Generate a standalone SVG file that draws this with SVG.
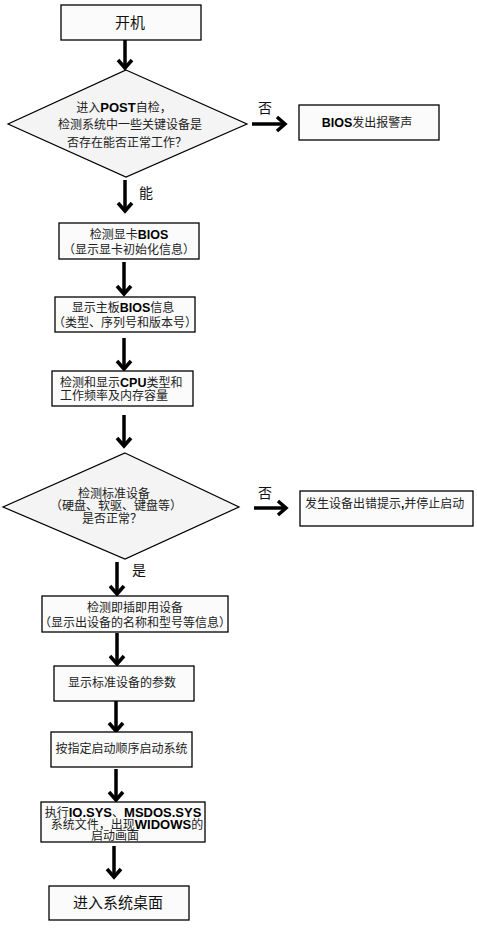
<svg xmlns="http://www.w3.org/2000/svg" width="477" height="944" viewBox="0 0 477 944">
<style>
.box{fill:#fbfbfb;stroke:#000;stroke-width:1.3}
.dia{fill:#f4f4f4;stroke:#000;stroke-width:1.2}
.t{font-family:"Noto Sans CJK SC","Liberation Serif",serif;font-size:12px;fill:#222}
.big{font-family:"Noto Sans CJK SC","Liberation Sans",sans-serif;font-size:15px;fill:#111}
.lbl{font-family:"Noto Sans CJK SC","Liberation Sans",sans-serif;font-size:14px;fill:#111}
.b{font-family:"Liberation Sans",Arial,sans-serif;font-weight:bold;fill:#000}
.m{text-anchor:middle}
.sh{stroke:#000;stroke-width:3.5;fill:none}
.hd{stroke:#000;stroke-width:3.5;fill:none;stroke-linejoin:miter}
</style>
<rect width="477" height="944" fill="#fff"/>
<g id="connectors">
<g id="a1"><line class="sh" x1="125" y1="40" x2="125" y2="68"/><polyline class="hd" points="118,60 125,68 132,60"/></g>
<g id="a2"><line class="sh" x1="125" y1="180" x2="125" y2="211"/><polyline class="hd" points="118,203 125,211 132,203"/></g>
<g id="a3"><line class="sh" x1="124" y1="262" x2="124" y2="294"/><polyline class="hd" points="117,286 124,294 131,286"/></g>
<g id="a4"><line class="sh" x1="124" y1="338" x2="124" y2="369"/><polyline class="hd" points="117,361 124,369 131,361"/></g>
<g id="a5"><line class="sh" x1="124" y1="415" x2="124" y2="446"/><polyline class="hd" points="117,438 124,446 131,438"/></g>
<g id="a6"><line class="sh" x1="117" y1="562" x2="117" y2="594"/><polyline class="hd" points="110,586 117,594 124,586"/></g>
<g id="a7"><line class="sh" x1="117" y1="633" x2="117" y2="664"/><polyline class="hd" points="110,656 117,664 124,656"/></g>
<g id="a8"><line class="sh" x1="116" y1="701" x2="116" y2="731"/><polyline class="hd" points="109,723 116,731 123,723"/></g>
<g id="a9"><line class="sh" x1="116" y1="769" x2="116" y2="800"/><polyline class="hd" points="109,792 116,800 123,792"/></g>
<g id="a10"><line class="sh" x1="114" y1="846" x2="114" y2="877"/><polyline class="hd" points="107,869 114,877 121,869"/></g>
<g id="h1"><line class="sh" x1="252" y1="124" x2="285" y2="124"/><polyline class="hd" points="277,117 285,124 277,131"/></g>
<g id="h2"><line class="sh" x1="254" y1="508" x2="286" y2="508"/><polyline class="hd" points="278,501 286,508 278,515"/></g>
<text class="lbl m" x="265" y="113">否</text>
<text class="lbl m" x="146" y="198">能</text>
<text class="lbl m" x="265" y="498">否</text>
<text class="lbl m" x="139" y="575">是</text>
</g>
<g id="n_start">
<rect class="box" x="61" y="5" width="140" height="35"/>
<text class="big m" x="130" y="28">开机</text>
</g>
<g id="n_post">
<polygon class="dia" points="126,70 247,124 126,177 8,124"/>
<text class="t m" x="124" y="112">进入<tspan class="b" font-size="13">POST</tspan>自检，</text>
<text class="t m" x="130" y="129">检测系统中一些关键设备是</text>
<text class="t m" x="127" y="147">否存在能否正常工作？</text>
</g>
<g id="n_beep">
<rect class="box" x="299" y="105" width="140" height="35"/>
<text class="t m" x="367" y="127"><tspan class="b" font-size="12.5">BIOS</tspan>发出报警声</text>
</g>
<g id="n_vga">
<rect class="box" x="59" y="223" width="140" height="36"/>
<text class="t m" x="129" y="239">检测显卡<tspan class="b" font-size="12.5">BIOS</tspan></text>
<text class="t m" x="129" y="254">（显示显卡初始化信息）</text>
</g>
<g id="n_board">
<rect class="box" x="55" y="297" width="140" height="35"/>
<text class="t m" x="123" y="312">显示主板<tspan class="b" font-size="12.5">BIOS</tspan>信息</text>
<text class="t m" x="125" y="327">（类型、序列号和版本号）</text>
</g>
<g id="n_cpu">
<rect class="box" x="52" y="371" width="141" height="35"/>
<text class="t" x="60" y="386.5">检测和显示<tspan class="b" font-size="12.5">CPU</tspan>类型和</text>
<text class="t" x="60" y="400">工作频率及内存容量</text>
</g>
<g id="n_std">
<polygon class="dia" points="125,453 239,507 125,559 3,507"/>
<text class="t m" x="114" y="497.5">检测标准设备</text>
<text class="t m" x="116" y="510" font-size="11">（硬盘、软驱、键盘等）</text>
<text class="t m" x="112" y="523">是否正常？</text>
</g>
<g id="n_err">
<rect class="box" x="300" y="491" width="173" height="35"/>
<text class="t" x="305" y="508">发生设备出错提示<tspan class="b">,</tspan>并停止启动</text>
</g>
<g id="n_pnp">
<rect class="box" x="42" y="596" width="186" height="36"/>
<text class="t m" x="135" y="611.5">检测即插即用设备</text>
<text class="t m" x="135" y="626.5">（显示出设备的名称和型号等信息）</text>
</g>
<g id="n_param">
<rect class="box" x="54" y="666" width="140" height="35"/>
<text class="t m" x="122" y="687">显示标准设备的参数</text>
</g>
<g id="n_boot">
<rect class="box" x="51" y="732" width="141" height="35"/>
<text class="t m" x="121.5" y="753">按指定启动顺序启动系统</text>
</g>
<g id="n_io">
<rect class="box" x="41" y="802" width="164" height="40"/>
<text class="t m" x="123" y="816.5">执行<tspan class="b" font-size="13">IO.SYS</tspan>、<tspan class="b" font-size="13">MSDOS.SYS</tspan></text>
<text class="t m" x="127" y="828.5">系统文件，出现<tspan class="b" font-size="13">WIDOWS</tspan>的</text>
<text class="t m" x="115" y="840">启动画面</text>
</g>
<g id="n_desk">
<rect class="box" x="49" y="886" width="140" height="34"/>
<text class="big m" x="118" y="908">进入系统桌面</text>
</g>
</svg>
